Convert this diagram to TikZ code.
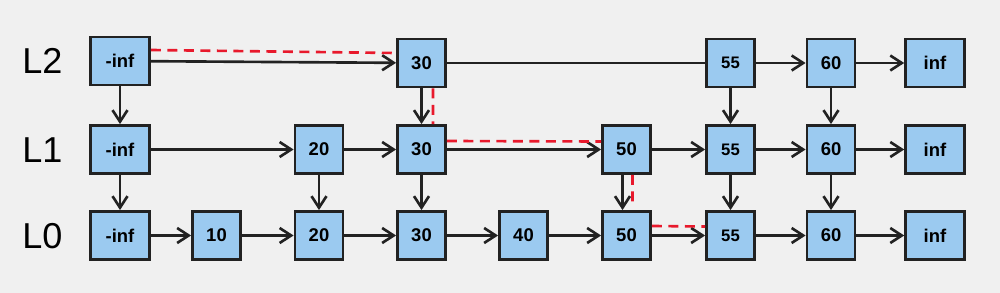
\documentclass[tikz,border=0pt]{standalone}
\usepackage{fontspec}
\setmainfont{Liberation Sans}
\usetikzlibrary{arrows.meta}
\definecolor{bgc}{HTML}{F0F0F0}
\definecolor{cellc}{HTML}{9BCAF0}
\definecolor{linec}{HTML}{222222}
\definecolor{pathc}{HTML}{E8192C}
\tikzset{
  cell/.style={draw=linec,fill=cellc,line width=1.5pt,minimum width=0.965cm,minimum height=0.965cm,
    inner sep=0pt,font=\bfseries\fontsize{10.5}{12}\selectfont},
  cellsm/.style={cell,font=\bfseries\fontsize{9.5}{11}\selectfont},
  wide/.style={cell,minimum width=1.18cm},
  lvl/.style={anchor=west,inner sep=0pt,font=\fontsize{20.5}{24}\selectfont},
  link/.style={draw=linec,line width=1.5pt,-{Straight Barb[length=2.3mm,width=3mm]}},
  route/.style={draw=pathc,line width=1.5pt,dash pattern=on 2mm off 1.3mm}
}
\begin{document}
\begin{tikzpicture}[x=0.02cm,y=-0.02cm]
  \fill[bgc] (0,0) rectangle (1000,293);
  \useasboundingbox (0,0) rectangle (1000,293);
  \node[lvl] (lab2) at (22,61) {L2};
  \node[lvl] (lab1) at (22,150) {L1};
  \node[lvl] (lab0) at (22,236) {L0};
  \node[wide] (l2-ninf) at (120,61) {-inf};
  \foreach \k/\x/\s in {30/421.5/cell,55/730.5/cellsm,60/831/cell}
    \node[\s] (l2-\k) at (\x,63) {\k};
  \node[wide] (l2-inf) at (935,63) {inf};
  \node[wide] (l1-ninf) at (120,149.5) {-inf};
  \foreach \k/\x/\s in {20/319/cell,30/421.5/cell,50/626.5/cell,55/730.5/cellsm,60/831/cell}
    \node[\s] (l1-\k) at (\x,149.5) {\k};
  \node[wide] (l1-inf) at (935,149.5) {inf};
  \node[wide] (l0-ninf) at (120,235.5) {-inf};
  \foreach \k/\x/\s in {10/216.5/cell,20/319/cell,30/421.5/cell,40/523.5/cell,50/626.5/cell,55/730.5/cellsm,60/831/cell}
    \node[\s] (l0-\k) at (\x,235.5) {\k};
  \node[wide] (l0-inf) at (935,235.5) {inf};
  \draw[link] (l2-ninf) -- (l2-30);
  \draw[draw=linec,line width=1.5pt] (l2-30) -- (l2-55);
  \foreach \a/\b in {55/60,60/inf} \draw[link] (l2-\a) -- (l2-\b);
  \foreach \a/\b in {ninf/20,20/30,30/50,50/55,55/60,60/inf} \draw[link] (l1-\a) -- (l1-\b);
  \foreach \a/\b in {ninf/10,10/20,20/30,30/40,40/50,50/55,55/60,60/inf} \draw[link] (l0-\a) -- (l0-\b);
  \foreach \k in {ninf,30,55,60} \draw[link] (l2-\k) -- (l1-\k);
  \foreach \k in {ninf,20,30,55,60} \draw[link] (l1-\k) -- (l0-\k);
  \draw[link] ([xshift=-0.8mm]l1-50.south) -- ([xshift=-0.8mm]l0-50.north);
  \draw[route] ([yshift=2.2mm]l2-ninf.east) -- ([yshift=2mm]l2-30.west)
    ([xshift=2.3mm]l2-30.south) -- ([xshift=2.3mm]l1-30.north)
    ([yshift=1.7mm]l1-30.east) -- ([yshift=1.6mm]l1-50.west)
    ([xshift=1.2mm]l1-50.south) -- ([xshift=1.2mm,yshift=0.8mm]l0-50.north)
    ([yshift=1.9mm]l0-50.east) -- ([yshift=1.8mm]l0-55.west);
\end{tikzpicture}
\end{document}
